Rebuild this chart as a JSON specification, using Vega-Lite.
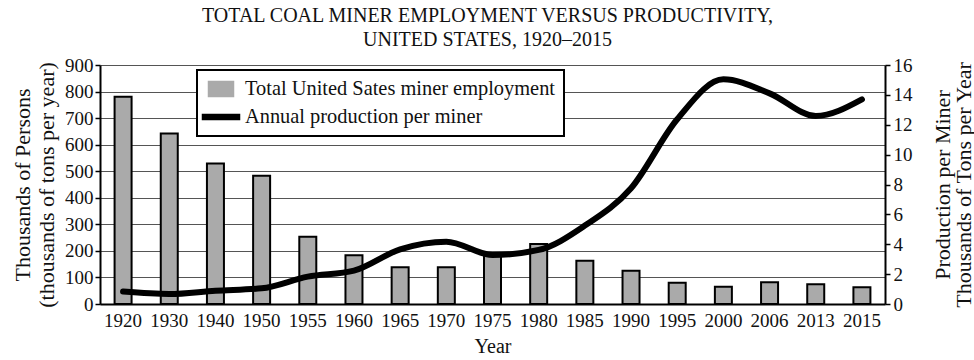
{
  "$schema": "https://vega.github.io/schema/vega-lite/v6.json",
  "width": 785,
  "height": 239,
  "autosize": {"type": "none"},
  "padding": {"left": 100, "top": 65, "right": 89, "bottom": 56},
  "background": "white",
  "config": {
    "font": "Liberation Serif",
    "view": {"stroke": null},
    "axis": {
      "labelFont": "Liberation Serif",
      "titleFont": "Liberation Serif",
      "labelColor": "#111",
      "titleColor": "#111",
      "titleFontWeight": "normal",
      "domainColor": "#000",
      "domainWidth": 2,
      "tickColor": "#000",
      "tickWidth": 1.5
    },
    "legend": {
      "labelFont": "Liberation Serif",
      "title": null,
      "orient": "none",
      "legendX": 97,
      "legendY": 5,
      "direction": "vertical",
      "padding": 8,
      "fillColor": "white",
      "strokeColor": "#000",
      "labelFontSize": 20.4,
      "labelColor": "#111",
      "labelLimit": 500,
      "labelOffset": 13,
      "symbolOffset": 5,
      "symbolSize": 400,
      "rowPadding": 6,
      "symbolStrokeColor": "#000",
      "symbolStrokeWidth": 1.5,
      "symbolOpacity": 1
    },
    "title": {"font": "Liberation Serif"}
  },
  "title": {
    "text": ["TOTAL COAL MINER EMPLOYMENT VERSUS PRODUCTIVITY,", "UNITED STATES, 1920–2015"],
    "fontSize": 20,
    "fontWeight": "normal",
    "lineHeight": 24,
    "color": "#111",
    "anchor": "middle",
    "frame": "group",
    "dx": -5,
    "offset": 6
  },
  "data": {
    "values": [
      {"year": "1920", "employment": 780, "production": 0.83},
      {"year": "1930", "employment": 642, "production": 0.67},
      {"year": "1940", "employment": 529, "production": 0.89},
      {"year": "1950", "employment": 483, "production": 1.05},
      {"year": "1955", "employment": 253, "production": 1.83},
      {"year": "1960", "employment": 184, "production": 2.23},
      {"year": "1965", "employment": 138, "production": 3.66},
      {"year": "1970", "employment": 138, "production": 4.17},
      {"year": "1975", "employment": 190, "production": 3.28},
      {"year": "1980", "employment": 226, "production": 3.62},
      {"year": "1985", "employment": 163, "production": 5.25},
      {"year": "1990", "employment": 125, "production": 7.75},
      {"year": "1995", "employment": 80, "production": 12.37},
      {"year": "2000", "employment": 65, "production": 15.04},
      {"year": "2006", "employment": 82, "production": 14.1},
      {"year": "2013", "employment": 74, "production": 12.59},
      {"year": "2015", "employment": 63, "production": 13.7}
    ]
  },
  "encoding": {
    "x": {
      "field": "year",
      "type": "ordinal",
      "sort": null,
      "scale": {"paddingInner": 0.6, "paddingOuter": 0.3},
      "axis": {
        "title": "Year",
        "labelAngle": 0,
        "labelFontSize": 19,
        "titleFontSize": 20,
        "ticks": false,
        "labelPadding": 7,
        "titlePadding": 6,
        "grid": false
      }
    }
  },
  "layer": [
    {
      "mark": {"type": "bar", "size": 17, "stroke": "#000", "strokeWidth": 2, "fill": "#aaaaaa"},
      "encoding": {
        "y": {
          "field": "employment",
          "type": "quantitative",
          "scale": {"domain": [0, 900]},
          "axis": {
            "title": ["Thousands of Persons", "(thousands of tons per year)"],
            "titleFontSize": 22,
            "titleLineHeight": 24,
            "labelFontSize": 19,
            "values": [0, 100, 200, 300, 400, 500, 600, 700, 800, 900],
            "tickSize": 5,
            "labelPadding": 2,
            "titlePadding": 6,
            "grid": true,
            "gridColor": "#555",
            "gridWidth": 1
          }
        },
        "color": {
          "datum": "Total United Sates miner employment",
          "type": "nominal",
          "scale": {
            "domain": ["Total United Sates miner employment", "Annual production per miner"],
            "range": ["#aaaaaa", "#000000"]
          },
          "legend": {
            "symbolType": {"expr": "datum.value === 'Annual production per miner' ? 'M-1.85,-0.25H1.85V0.25H-1.85Z' : 'M-1.25,-0.75H1.25V0.75H-1.25Z'"},
            "encode": {
              "legend": {"update": {"strokeWidth": {"value": 2}}},
              "symbols": {"update": {"stroke": {"value": "#000"}, "strokeWidth": {"value": 1.5}, "strokeOpacity": {"value": 1}}}
            }
          }
        }
      }
    },
    {
      "mark": {"type": "line", "strokeWidth": 6, "strokeCap": "round", "strokeJoin": "round", "interpolate": "monotone", "color": "#000"},
      "encoding": {
        "y": {
          "field": "production",
          "type": "quantitative",
          "scale": {"domain": [0, 16]},
          "axis": {
            "orient": "right",
            "title": ["Production per Miner", "Thousands of Tons per Year"],
            "titleAngle": 270,
            "titleFontSize": 22,
            "titleLineHeight": 21,
            "labelFontSize": 19,
            "values": [0, 2, 4, 6, 8, 10, 12, 14, 16],
            "tickSize": 5,
            "labelPadding": 3,
            "titlePadding": 21,
            "grid": false
          }
        },
        "color": {
          "datum": "Annual production per miner",
          "type": "nominal",
          "legend": {
            "symbolType": {"expr": "datum.value === 'Annual production per miner' ? 'M-1.85,-0.25H1.85V0.25H-1.85Z' : 'M-1.25,-0.75H1.25V0.75H-1.25Z'"},
            "encode": {
              "legend": {"update": {"strokeWidth": {"value": 2}}},
              "symbols": {"update": {"stroke": {"value": "#000"}, "strokeWidth": {"value": 1.5}, "strokeOpacity": {"value": 1}}}
            }
          }
        }
      }
    }
  ],
  "resolve": {"scale": {"y": "independent"}}
}
